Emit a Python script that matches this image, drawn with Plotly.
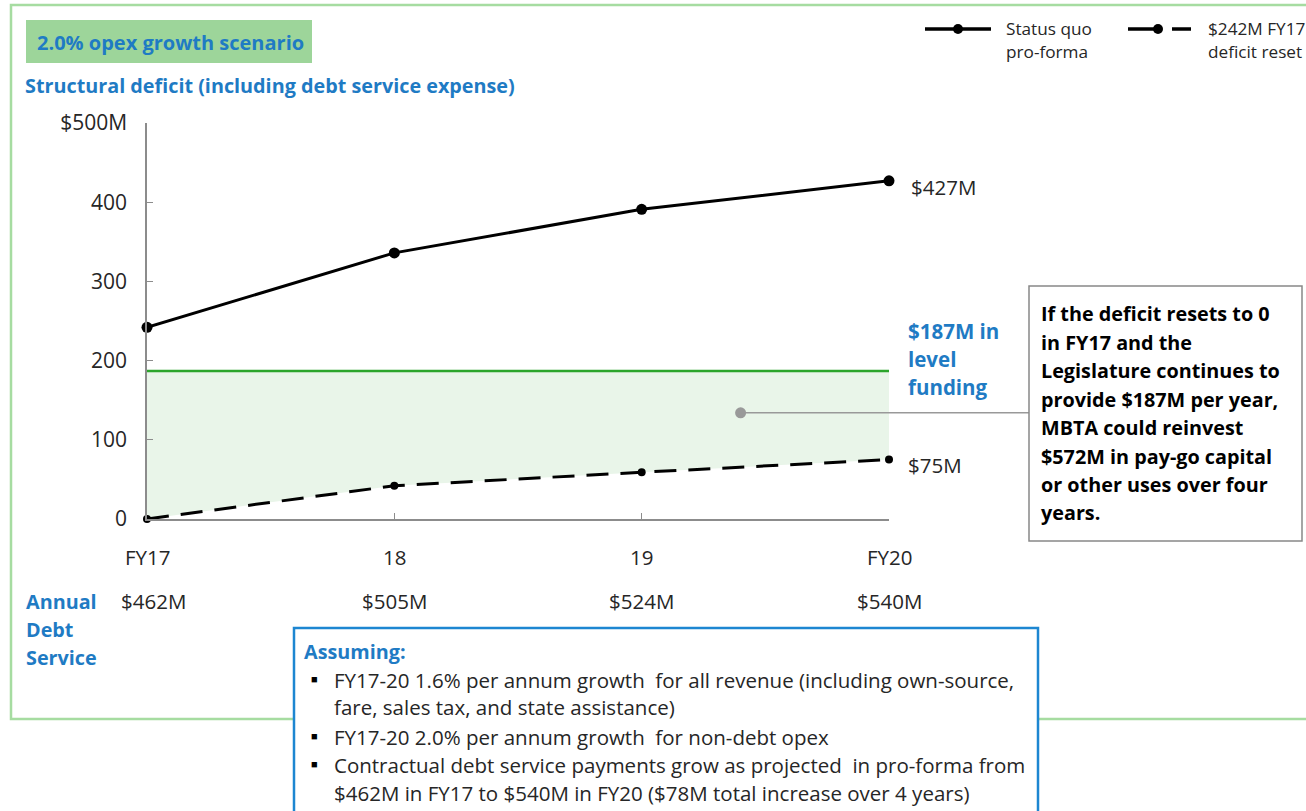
import plotly.graph_objects as go

W, H = 1306, 811

# ---------------- data ----------------
years = ["FY17", "18", "19", "FY20"]
status_quo = [242, 336, 391, 427]
deficit_reset = [0, 42, 59, 75]
level_funding = 187
debt_service = ["$462M", "$505M", "$524M", "$540M"]
y_ticks = [0, 100, 200, 300, 400, 500]
y_ticktext = ["0", "100", "200", "300", "400", "$500M"]
callout_point = (2.4, 134)

callout_lines = [
    "If the deficit resets to 0",
    "in FY17 and the",
    "Legislature continues to",
    "provide $187M per year,",
    "MBTA could reinvest",
    "$572M in pay-go capital",
    "or other uses over four",
    "years.",
]
assumptions = [
    ("", "<b>Assuming:</b>"),
    ("■", "FY17-20 1.6% per annum growth  for all revenue (including own-source,"),
    ("", "fare, sales tax, and state assistance)"),
    ("■", "FY17-20 2.0% per annum growth  for non-debt opex"),
    ("■", "Contractual debt service payments grow as projected  in pro-forma from"),
    ("", "$462M in FY17 to $540M in FY20 ($78M total increase over 4 years)"),
]

# ---------------- layout geometry (pixels) ----------------
PX_L, PX_R = 147, 889
PY_B, PY_T = 519, 123
Y_MAX = 500
xs = list(range(len(years)))

FONT = "Open Sans"
BLUE = "#1F7BC4"
DARK = "#262626"
REG = 20.5
BOLD = 19.8
LEG = 17.2


def px(x):
    return x / W


def py(y):
    return 1 - y / H


def d2px(xv, yv):
    """data -> pixel coordinates"""
    X = PX_L + (PX_R - PX_L) * xv / (len(years) - 1)
    Y = PY_B - (PY_B - PY_T) * yv / Y_MAX
    return X, Y


fig = go.Figure()

fig.add_trace(go.Scatter(
    x=xs + xs[::-1],
    y=deficit_reset + [level_funding] * len(xs),
    fill="toself", fillcolor="#E9F5E9", line=dict(width=0),
    mode="lines", hoverinfo="skip", showlegend=False))

fig.add_trace(go.Scatter(
    x=[xs[0], xs[-1]], y=[level_funding, level_funding], mode="lines",
    line=dict(color="#2BA52B", width=2.5), showlegend=False, cliponaxis=False))

fig.add_trace(go.Scatter(
    x=xs, y=status_quo, mode="lines+markers",
    line=dict(color="black", width=3), marker=dict(color="black", size=11),
    showlegend=False, cliponaxis=False))

fig.add_trace(go.Scatter(
    x=xs, y=deficit_reset, mode="lines+markers",
    line=dict(color="black", width=3, dash="22px,12px"),
    marker=dict(color="black", size=8),
    showlegend=False, cliponaxis=False))

fig.add_trace(go.Scatter(
    x=[callout_point[0]], y=[callout_point[1]], mode="markers",
    marker=dict(color="#999999", size=11), showlegend=False, cliponaxis=False))

shapes = []
shapes.append(dict(type="rect", xref="paper", yref="paper",
                   x0=px(11), x1=px(1330), y0=py(719), y1=py(5),
                   line=dict(color="#A6DCA1", width=2.5), fillcolor="rgba(0,0,0,0)", layer="below"))
shapes.append(dict(type="rect", xref="paper", yref="paper",
                   x0=px(26), x1=px(312), y0=py(63), y1=py(20),
                   line=dict(width=0), fillcolor="#9DD59A", layer="below"))
cx, cy = d2px(*callout_point)
shapes.append(dict(type="line", xref="paper", yref="paper",
                   x0=px(cx), x1=px(1029), y0=py(cy), y1=py(cy),
                   line=dict(color="#999999", width=1.5)))
shapes.append(dict(type="rect", xref="paper", yref="paper",
                   x0=px(1029), x1=px(1302), y0=py(541), y1=py(286),
                   line=dict(color="#888888", width=1.5), fillcolor="white"))
shapes.append(dict(type="rect", xref="paper", yref="paper",
                   x0=px(294), x1=px(1038), y0=py(830), y1=py(628),
                   line=dict(color="#1D86D1", width=2.5), fillcolor="white"))


def dot(xc, yc, r):
    return dict(type="circle", xref="paper", yref="paper", xsizemode="pixel", ysizemode="pixel",
                xanchor=px(xc), yanchor=py(yc), x0=-r, x1=r, y0=-r, y1=r,
                fillcolor="black", line=dict(width=0))


shapes.append(dict(type="line", xref="paper", yref="paper", x0=px(925), x1=px(991),
                   y0=py(29), y1=py(29), line=dict(color="black", width=3.5)))
shapes.append(dot(958, 29, 5))
shapes.append(dict(type="line", xref="paper", yref="paper", x0=px(1128), x1=px(1160),
                   y0=py(29), y1=py(29), line=dict(color="black", width=3.5)))
shapes.append(dot(1158, 29, 5))
shapes.append(dict(type="line", xref="paper", yref="paper", x0=px(1172), x1=px(1191),
                   y0=py(29), y1=py(29), line=dict(color="black", width=3.5)))

ann = []


def text(x, y, s, size=REG, color=DARK, bold=False, xanchor="left"):
    ann.append(dict(xref="paper", yref="paper", x=px(x), y=py(y), text=(f"<b>{s}</b>" if bold else s),
                    showarrow=False, xanchor=xanchor, yanchor="middle",
                    font=dict(family=FONT, size=size, color=color)))


text(35, 42, "2.0% opex growth scenario", 20, BLUE, True)
text(23, 85, "Structural deficit (including debt service expense)", BOLD, BLUE, True)

text(1004, 29, "Status quo", LEG)
text(1004, 52, "pro-forma", LEG)
text(1206, 29, "$242M FY17", LEG)
text(1206, 52, "deficit reset", LEG)

for i, (lab, ds) in enumerate(zip(years, debt_service)):
    X, _ = d2px(i, 0)
    text(X, 557, lab, REG, xanchor="center")
    text(X + (6 if i == 0 else 0), 601, ds, REG, xanchor="center")

text(24, 601, "Annual", BOLD, BLUE, True)
text(24, 629, "Debt", BOLD, BLUE, True)
text(24, 657, "Service", BOLD, BLUE, True)

X, Y = d2px(3, status_quo[-1])
text(X + 20, Y + 6, f"${status_quo[-1]}M", REG)
X, Y = d2px(3, deficit_reset[-1])
text(X + 17, Y + 5, f"${deficit_reset[-1]}M", REG)

for j, s in enumerate(["$187M in", "level", "funding"]):
    text(906, 331 + 28 * j, s, 20.5, BLUE, True)

for j, s in enumerate(callout_lines):
    text(1039, 314 + 28.4 * j, s, BOLD, "black", True)

ys_assume = [651, 680, 707, 737, 765, 793]
for (b, s), yy in zip(assumptions, ys_assume):
    if s.startswith("<b>"):
        text(302, yy, s, BOLD, BLUE)
    else:
        if b:
            text(309, yy - 2, b, 11, "black")
        text(332, yy, s, REG)

fig.update_layout(
    width=W, height=H, autosize=False,
    margin=dict(l=0, r=0, t=0, b=0, pad=0),
    paper_bgcolor="white", plot_bgcolor="rgba(0,0,0,0)",
    shapes=shapes, annotations=ann, showlegend=False,
    xaxis=dict(domain=[px(PX_L), px(PX_R)], range=[0, len(years) - 1], automargin=False,
               showgrid=False, zeroline=False, showline=True, linecolor="#8C8C8C", linewidth=1.5,
               ticks="inside", ticklen=6, tickcolor="#8C8C8C", tickvals=xs, showticklabels=False),
    yaxis=dict(domain=[py(PY_B), py(PY_T)], range=[0, Y_MAX], automargin=False,
               showgrid=False, zeroline=False, showline=True, linecolor="#8C8C8C", linewidth=1.5,
               ticks="inside", ticklen=6, tickcolor="#8C8C8C",
               tickvals=y_ticks, ticktext=y_ticktext, ticklabelstandoff=14,
               tickfont=dict(family=FONT, size=21, color=DARK)),
)

fig.write_html("out.html", config={"displayModeBar": False},
               post_script="document.body.style.margin='0';document.body.style.overflow='hidden';")
